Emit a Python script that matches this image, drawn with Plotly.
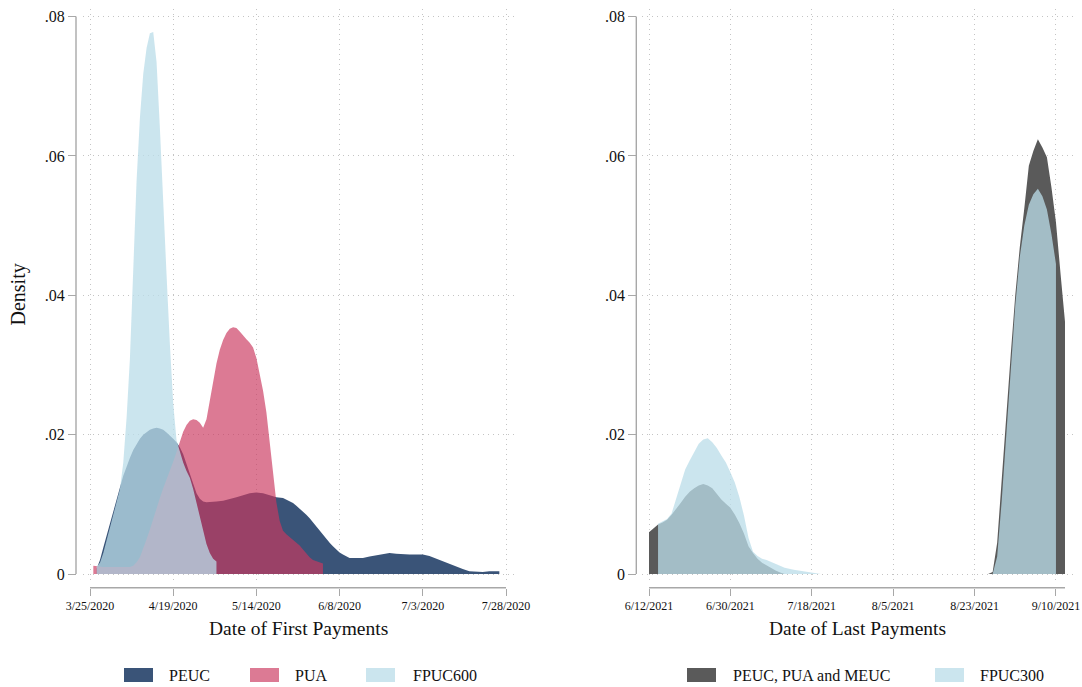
import pandas as pd
import plotly.graph_objects as go

FONT = "Liberation Serif"
W, H = 1082, 687

# ---------------------------------------------------------------------------
# Date of first payments: (days after 25 Mar 2020, kernel density)
# ---------------------------------------------------------------------------
first_origin = "2020-03-25"

peuc = [
    (2, .0008), (3, .0020), (4, .0038), (5, .0056), (6, .0073), (7, .0090),
    (8, .0107), (9, .0124), (10, .0141), (11, .0155), (12, .0167), (13, .0178),
    (14, .0187), (15, .0194), (16, .0200), (17, .0204), (18, .0207), (19, .0209),
    (20, .0210), (21, .0209), (22, .0207), (23, .0203), (24, .0199), (25, .0194),
    (26, .0189), (27, .0182), (28, .0172), (29, .0158), (30, .0142), (31, .0128),
    (32, .0116), (33, .0108), (34, .0104), (35, .0103), (36, .0103), (38, .0104),
    (40, .0105), (42, .0107), (44, .0110), (46, .0113), (48, .0116), (50, .0117),
    (52, .0116), (54, .0113), (56, .0110), (58, .0109), (59, .0107), (60, .0105),
    (61, .0102), (62, .0098), (63, .0094), (64, .0090), (65, .0085), (66, .0080),
    (67, .0074), (68, .0068), (69, .0062), (70, .0056), (71, .0050), (72, .0045),
    (73, .0040), (74, .0035), (75, .0031), (76, .0028), (77, .0025), (78, .0023),
    (80, .0023), (82, .0023), (84, .0025), (86, .0027), (88, .0029), (90, .0030),
    (92, .0029), (94, .0028), (96, .0028), (98, .0028), (100, .0028), (102, .0026),
    (104, .0022), (106, .0018), (108, .0014), (110, .0010), (112, .0007),
    (114, .0004), (116, .0003), (118, .0003), (120, .0004), (122, .0004),
    (123, .0004),
]

pua = [
    (1, .0012), (2, .0011), (3, .0010), (4, .0010), (6, .0010), (8, .0010),
    (10, .0010), (12, .0010), (13, .0012), (14, .0017), (15, .0024), (16, .0036),
    (17, .0050), (18, .0064), (19, .0080), (20, .0094), (21, .0109), (22, .0123),
    (23, .0135), (24, .0148), (25, .0161), (26, .0175), (27, .0191), (28, .0204),
    (29, .0214), (30, .0220), (31, .0222), (32, .0221), (33, .0217), (34, .0210),
    (35, .0222), (36, .0250), (37, .0278), (38, .0302), (39, .0322), (40, .0336),
    (41, .0346), (42, .0352), (43, .0354), (44, .0353), (45, .0348), (46, .0342),
    (47, .0337), (48, .0332), (49, .0325), (50, .0310), (51, .0288), (52, .0263),
    (53, .0232), (54, .0190), (55, .0143), (56, .0103), (57, .0076), (58, .0062),
    (59, .0057), (60, .0053), (61, .0049), (62, .0046), (63, .0041), (64, .0035),
    (65, .0029), (66, .0024), (67, .0020), (68, .0018), (69, .0016), (70, .0015),
]

fpuc600 = [
    (2, .0010), (3, .0016), (4, .0030), (5, .0048), (6, .0065), (7, .0083),
    (8, .0100), (9, .0122), (10, .0160), (11, .0225), (12, .0310), (13, .0450),
    (14, .0565), (15, .0655), (16, .0718), (17, .0755), (18, .0776), (19, .0778),
    (20, .0735), (21, .0640), (22, .0545), (23, .0430), (24, .0330), (25, .0245),
    (26, .0192), (27, .0175), (28, .0160), (29, .0148), (30, .0138), (31, .0122),
    (32, .0102), (33, .0080), (34, .0060), (35, .0043), (36, .0030), (37, .0022),
    (38, .0018),
]

first_tick_days = [0, 25, 50, 75, 100, 125]
first_tick_text = ["3/25/2020", "4/19/2020", "5/14/2020", "6/8/2020", "7/3/2020", "7/28/2020"]

# ---------------------------------------------------------------------------
# Date of last payments: (days after 12 Jun 2021, kernel density)
# ---------------------------------------------------------------------------
last_origin = "2021-06-12"

peuc_pua_meuc = [
    (0, .0060), (1, .0066), (2, .0071), (3, .0074), (4, .0078), (5, .0085),
    (6, .0093), (7, .0102), (8, .0111), (9, .0118), (10, .0123), (11, .0127),
    (12, .0129), (13, .0127), (14, .0123), (15, .0115), (16, .0107), (17, .0101),
    (18, .0095), (19, .0085), (20, .0073), (21, .0058), (22, .0040), (23, .0030),
    (24, .0022), (25, .0016), (26, .0012), (27, .0008), (28, .0005), (29, .0002),
    (30, 0), (75, 0), (76, .0003), (77, .0045), (78, .0140), (79, .0225),
    (80, .0315), (81, .0400), (82, .0469), (83, .0525), (84, .0586), (85, .0607),
    (86, .0624), (87, .0612), (88, .0598), (89, .0555), (90, .0505), (91, .0432),
    (92, .0362),
]

fpuc300 = [
    (2, .0072), (3, .0075), (4, .0079), (5, .0087), (6, .0108), (7, .0132),
    (8, .0150), (9, .0163), (10, .0175), (11, .0187), (12, .0193), (13, .0195),
    (14, .0189), (15, .0181), (16, .0170), (17, .0160), (18, .0146), (19, .0131),
    (20, .0110), (21, .0084), (22, .0052), (23, .0032), (24, .0026), (25, .0022),
    (26, .0020), (27, .0017), (28, .0014), (29, .0011), (30, .0009), (32, .0006),
    (34, .0004), (36, .0002), (38, 0), (76, 0), (77, .0025), (78, .0105),
    (79, .0195), (80, .0290), (81, .0385), (82, .0455), (83, .0500), (84, .0530),
    (85, .0545), (86, .0553), (87, .0542), (88, .0523), (89, .0488), (90, .0445),
]

last_tick_days = [0, 18, 36, 54, 72, 90]
last_tick_text = ["6/12/2021", "6/30/2021", "7/18/2021", "8/5/2021", "8/23/2021", "9/10/2021"]

density_ticks = [0, 0.02, 0.04, 0.06, 0.08]
density_text = ["0", ".02", ".04", ".06", ".08"]

# ---------------------------------------------------------------------------
# Styling
# ---------------------------------------------------------------------------
NAVY = "#3a5478"
PINK = "rgba(202,55,94,0.665)"
LTBLUE = "rgba(186,221,233,0.756)"
GRAY = "#5a5a5a"
AXIS = "#a8a8a8"
GRID = "#c4c4c4"
TEXT = "#111111"

# pixel layout of the two panels
PLOT_TOP, PLOT_BOTTOM = 8.6, 582.0      # plot region
Y_TOP_PX, Y_ZERO_PX = 16.6, 574.0       # where .08 and 0 fall
XLINE_PX = 587.7                        # detached x axis line
panels = [
    dict(axis_x=76.0, x0=82.5, x1=513.5),
    dict(axis_x=636.3, x0=641.5, x1=1072.5),
]
SCALE_PAD_PX = 7.5


def to_dates(origin, days):
    return [pd.Timestamp(origin) + pd.Timedelta(days=d) for d in days]


def split(points):
    days = [p[0] for p in points]
    vals = [p[1] for p in points]
    return days, vals


fig = go.Figure()


def add_area(points, origin, color, name, xa, ya):
    days, vals = split(points)
    fig.add_trace(go.Scatter(
        x=to_dates(origin, days), y=vals, name=name,
        mode="lines", fill="tozeroy", fillcolor=color,
        line=dict(width=0, color=color),
        hoverinfo="skip", showlegend=False, xaxis=xa, yaxis=ya,
    ))


add_area(peuc, first_origin, NAVY, "PEUC", "x", "y")
add_area(pua, first_origin, PINK, "PUA", "x", "y")
add_area(fpuc600, first_origin, LTBLUE, "FPUC600", "x", "y")
add_area(peuc_pua_meuc, last_origin, GRAY, "PEUC, PUA and MEUC", "x2", "y2")
add_area(fpuc300, last_origin, LTBLUE, "FPUC300", "x2", "y2")

# y scale: 0 .. .08 spans Y_ZERO_PX..Y_TOP_PX, plot region adds a margin
y_per_px = (density_ticks[-1] - density_ticks[0]) / (Y_ZERO_PX - Y_TOP_PX)
y_range = [density_ticks[0] - (PLOT_BOTTOM - Y_ZERO_PX) * y_per_px,
           density_ticks[-1] + (Y_TOP_PX - PLOT_TOP) * y_per_px]
y_domain = [1 - PLOT_BOTTOM / H, 1 - PLOT_TOP / H]

# x scales run from the first tick to the end of the data/ticks
first_scale = (first_tick_days[0], max(first_tick_days[-1], split(peuc)[0][-1]))
last_scale = (last_tick_days[0], max(last_tick_days[-1], split(peuc_pua_meuc)[0][-1]))


def x_axis(panel, origin, scale, tick_days, tick_text):
    span_px = panel["x1"] - panel["x0"] - 2 * SCALE_PAD_PX
    pad = (scale[1] - scale[0]) * SCALE_PAD_PX / span_px
    lo = pd.Timestamp(origin) + pd.Timedelta(days=scale[0] - pad)
    hi = pd.Timestamp(origin) + pd.Timedelta(days=scale[1] + pad)
    return dict(
        domain=[panel["x0"] / W, panel["x1"] / W],
        anchor="free", position=1 - XLINE_PX / H,
        range=[lo, hi], type="date",
        tickvals=to_dates(origin, tick_days), ticktext=tick_text,
        ticks="outside", ticklen=7, tickwidth=1.3, tickcolor=AXIS,
        tickfont=dict(family=FONT, size=12, color=TEXT),
        showline=False, zeroline=False, automargin=False,
        showgrid=True, gridcolor=GRID, gridwidth=1, griddash="1px,4px",
    )


def y_axis(panel):
    return dict(
        domain=y_domain, anchor="free", position=panel["axis_x"] / W,
        range=y_range, tickvals=density_ticks, ticktext=density_text,
        ticks="outside", ticklen=8, tickwidth=1.3, tickcolor=AXIS,
        tickfont=dict(family=FONT, size=16, color=TEXT),
        showline=False, zeroline=False, automargin=False,
        showgrid=True, gridcolor=GRID, gridwidth=1, griddash="1px,4px",
    )


shapes = []
for i, (panel, origin, scale) in enumerate(
        [(panels[0], first_origin, first_scale), (panels[1], last_origin, last_scale)]):
    xref = "x" if i == 0 else "x2"
    yref = "y" if i == 0 else "y2"
    # vertical axis line from 0 to the top tick
    shapes.append(dict(type="line", xref="paper", yref=yref,
                       x0=panel["axis_x"] / W, x1=panel["axis_x"] / W,
                       y0=density_ticks[0], y1=density_ticks[-1],
                       line=dict(color=AXIS, width=1.4)))
    # horizontal axis line, set below the plot region
    shapes.append(dict(type="line", xref=xref, yref="paper",
                       x0=pd.Timestamp(origin) + pd.Timedelta(days=scale[0]),
                       x1=pd.Timestamp(origin) + pd.Timedelta(days=scale[1]),
                       y0=1 - XLINE_PX / H, y1=1 - XLINE_PX / H,
                       line=dict(color=AXIS, width=1.4)))

annotations = [
    dict(text="Density", x=18 / W, y=1 - 294.5 / H, xref="paper", yref="paper",
         textangle=-90, showarrow=False, xanchor="center", yanchor="middle",
         font=dict(family=FONT, size=20, color=TEXT)),
    dict(text="Date of First Payments", x=(panels[0]["x0"] + panels[0]["x1"]) / 2 / W,
         y=1 - 628 / H, xref="paper", yref="paper", showarrow=False,
         xanchor="center", yanchor="middle", font=dict(family=FONT, size=19.5, color=TEXT)),
    dict(text="Date of Last Payments", x=(panels[1]["x0"] + panels[1]["x1"]) / 2 / W,
         y=1 - 628 / H, xref="paper", yref="paper", showarrow=False,
         xanchor="center", yanchor="middle", font=dict(family=FONT, size=19.5, color=TEXT)),
]

# legend keys (swatch left edge, label left edge)
legend_items = [
    ("PEUC", NAVY, 124, 167),
    ("PUA", PINK, 250, 293),
    ("FPUC600", LTBLUE, 366, 411),
    ("PEUC, PUA and MEUC", GRAY, 687, 731),
    ("FPUC300", LTBLUE, 935, 978),
]
KEY_W, KEY_TOP, KEY_BOTTOM, KEY_MID = 29, 668, 682, 675
for label, color, kx, tx in legend_items:
    shapes.append(dict(type="rect", xref="paper", yref="paper",
                       x0=kx / W, x1=(kx + KEY_W) / W,
                       y0=1 - KEY_BOTTOM / H, y1=1 - KEY_TOP / H,
                       fillcolor=color, line=dict(width=0)))
    annotations.append(dict(text=label, x=tx / W, y=1 - KEY_MID / H,
                            xref="paper", yref="paper", showarrow=False,
                            xanchor="left", yanchor="middle",
                            font=dict(family=FONT, size=16, color=TEXT)))

fig.update_layout(
    width=W, height=H,
    margin=dict(l=0, r=0, t=0, b=0),
    paper_bgcolor="white", plot_bgcolor="white",
    showlegend=False,
    xaxis=x_axis(panels[0], first_origin, first_scale, first_tick_days, first_tick_text),
    yaxis=y_axis(panels[0]),
    xaxis2=x_axis(panels[1], last_origin, last_scale, last_tick_days, last_tick_text),
    yaxis2=y_axis(panels[1]),
    shapes=shapes,
    annotations=annotations,
)

fig.write_html("out.html")
